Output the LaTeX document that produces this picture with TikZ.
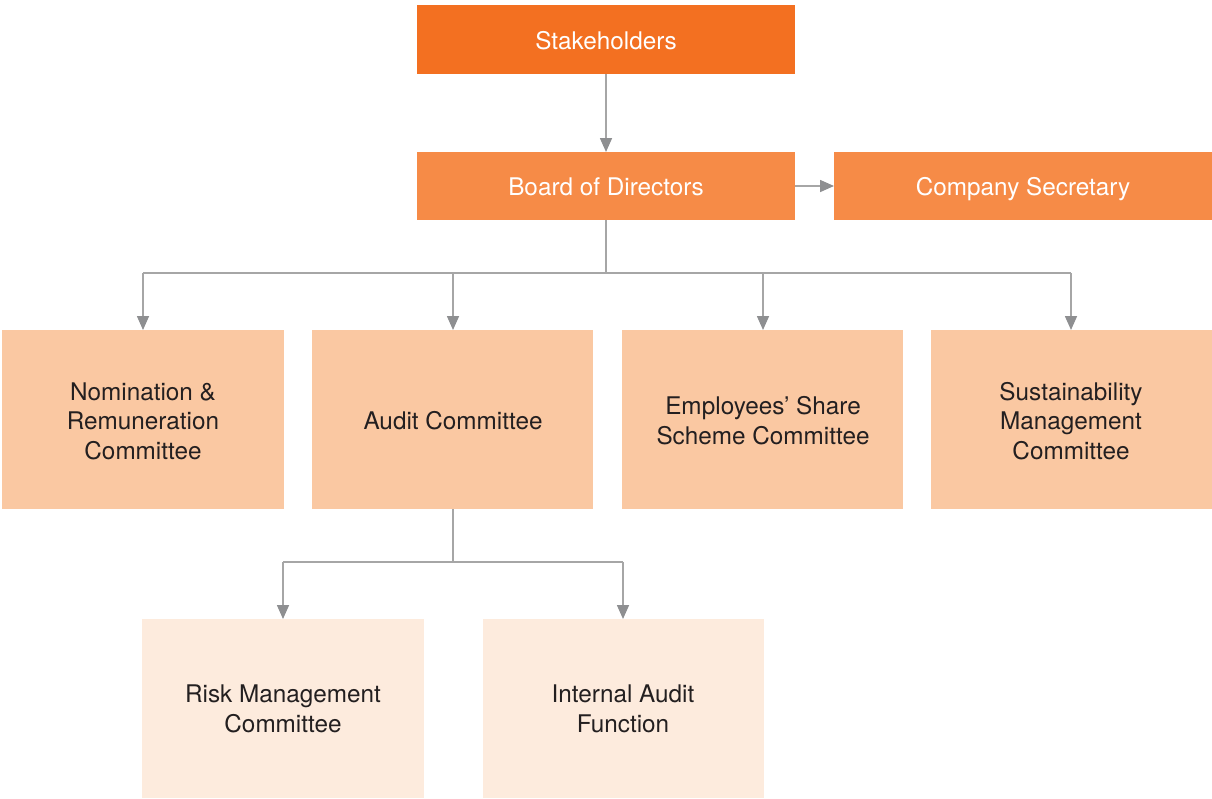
\documentclass[tikz,border=0pt]{standalone}
\usepackage{fontspec}
\setmainfont{TeX Gyre Heros}
\usetikzlibrary{arrows.meta}
\definecolor{cdark}{HTML}{F37021}
\definecolor{cmid}{HTML}{F68B47}
\definecolor{clight}{HTML}{FAC8A2}
\definecolor{cpale}{HTML}{FDEBDD}
\definecolor{cline}{HTML}{A6A6A6}
\definecolor{chead}{HTML}{8E8F91}
\definecolor{ctext}{HTML}{231F20}
\begin{document}
\begin{tikzpicture}[x=1pt,y=-1pt,
  box/.style={inner sep=0pt,outer sep=0pt,align=center,font=\fontsize{24.3}{29.5}\selectfont},
  conn/.style={draw=cline,line width=1.6pt,-{Triangle[length=14pt,width=12pt,color=chead,fill=chead]}},
  plain/.style={draw=cline,line width=1.6pt}]
\useasboundingbox (0,0) rectangle (1212,798);
% top boxes
\fill[cdark] (417,5) rectangle (795,74);
\node[box,text=white] (sh) at (606,43.8) {\strut Stakeholders};
\coordinate (shb) at (606,74);
\fill[cmid] (417,152) rectangle (795,220);
\node[box,text=white] (bd) at (606,189.8) {\strut Board of Directors};
\coordinate (bdt) at (606,152);
\coordinate (bdb) at (606,220);
\coordinate (bdr) at (795,186);
\fill[cmid] (834,152) rectangle (1212,220);
\node[box,text=white] (cs) at (1023,189.8) {\strut Company Secretary};
\coordinate (csl) at (834,186);
% row 2
\fill[clight] (2,330) rectangle (284,509);
\node[box,text=ctext] (nr) at (143,423.8) {\strut Nomination \&\\\strut Remuneration\\\strut Committee};
\fill[clight] (312,330) rectangle (593,509);
\node[box,text=ctext] (ac) at (453,423.8) {\strut Audit Committee};
\fill[clight] (622,330) rectangle (903,509);
\node[box,text=ctext] (es) at (763,423.8) {\strut Employees’ Share\\\strut Scheme Committee};
\fill[clight] (931,330) rectangle (1212,509);
\node[box,text=ctext] (sm) at (1071,423.8) {\strut Sustainability\\\strut Management\\\strut Committee};
% row 3
\fill[cpale] (142,619) rectangle (424,798);
\node[box,text=ctext] (rm) at (283,711.8) {\strut Risk Management\\\strut Committee};
\fill[cpale] (483,619) rectangle (764,798);
\node[box,text=ctext] (ia) at (623,711.8) {\strut Internal Audit\\\strut Function};
% anchors
\coordinate (nrt) at (143,330);
\coordinate (act) at (453,330);
\coordinate (est) at (763,330);
\coordinate (smt) at (1071,330);
\coordinate (acb) at (453,509);
\coordinate (rmt) at (283,619);
\coordinate (iat) at (623,619);
\coordinate (j1) at (606,273);
\coordinate (j2) at (453,562);
% connectors
\draw[conn] (shb) -- (bdt);
\draw[conn] (bdr) -- (csl);
\draw[plain] (bdb) -- (j1);
\draw[plain] (143,273) -- (1071,273);
\draw[conn] (nrt |- j1) -- (nrt);
\draw[conn] (act |- j1) -- (act);
\draw[conn] (est |- j1) -- (est);
\draw[conn] (smt |- j1) -- (smt);
\draw[plain] (acb) -- (j2);
\draw[plain] (283,562) -- (623,562);
\draw[conn] (rmt |- j2) -- (rmt);
\draw[conn] (iat |- j2) -- (iat);
\end{tikzpicture}
\end{document}
